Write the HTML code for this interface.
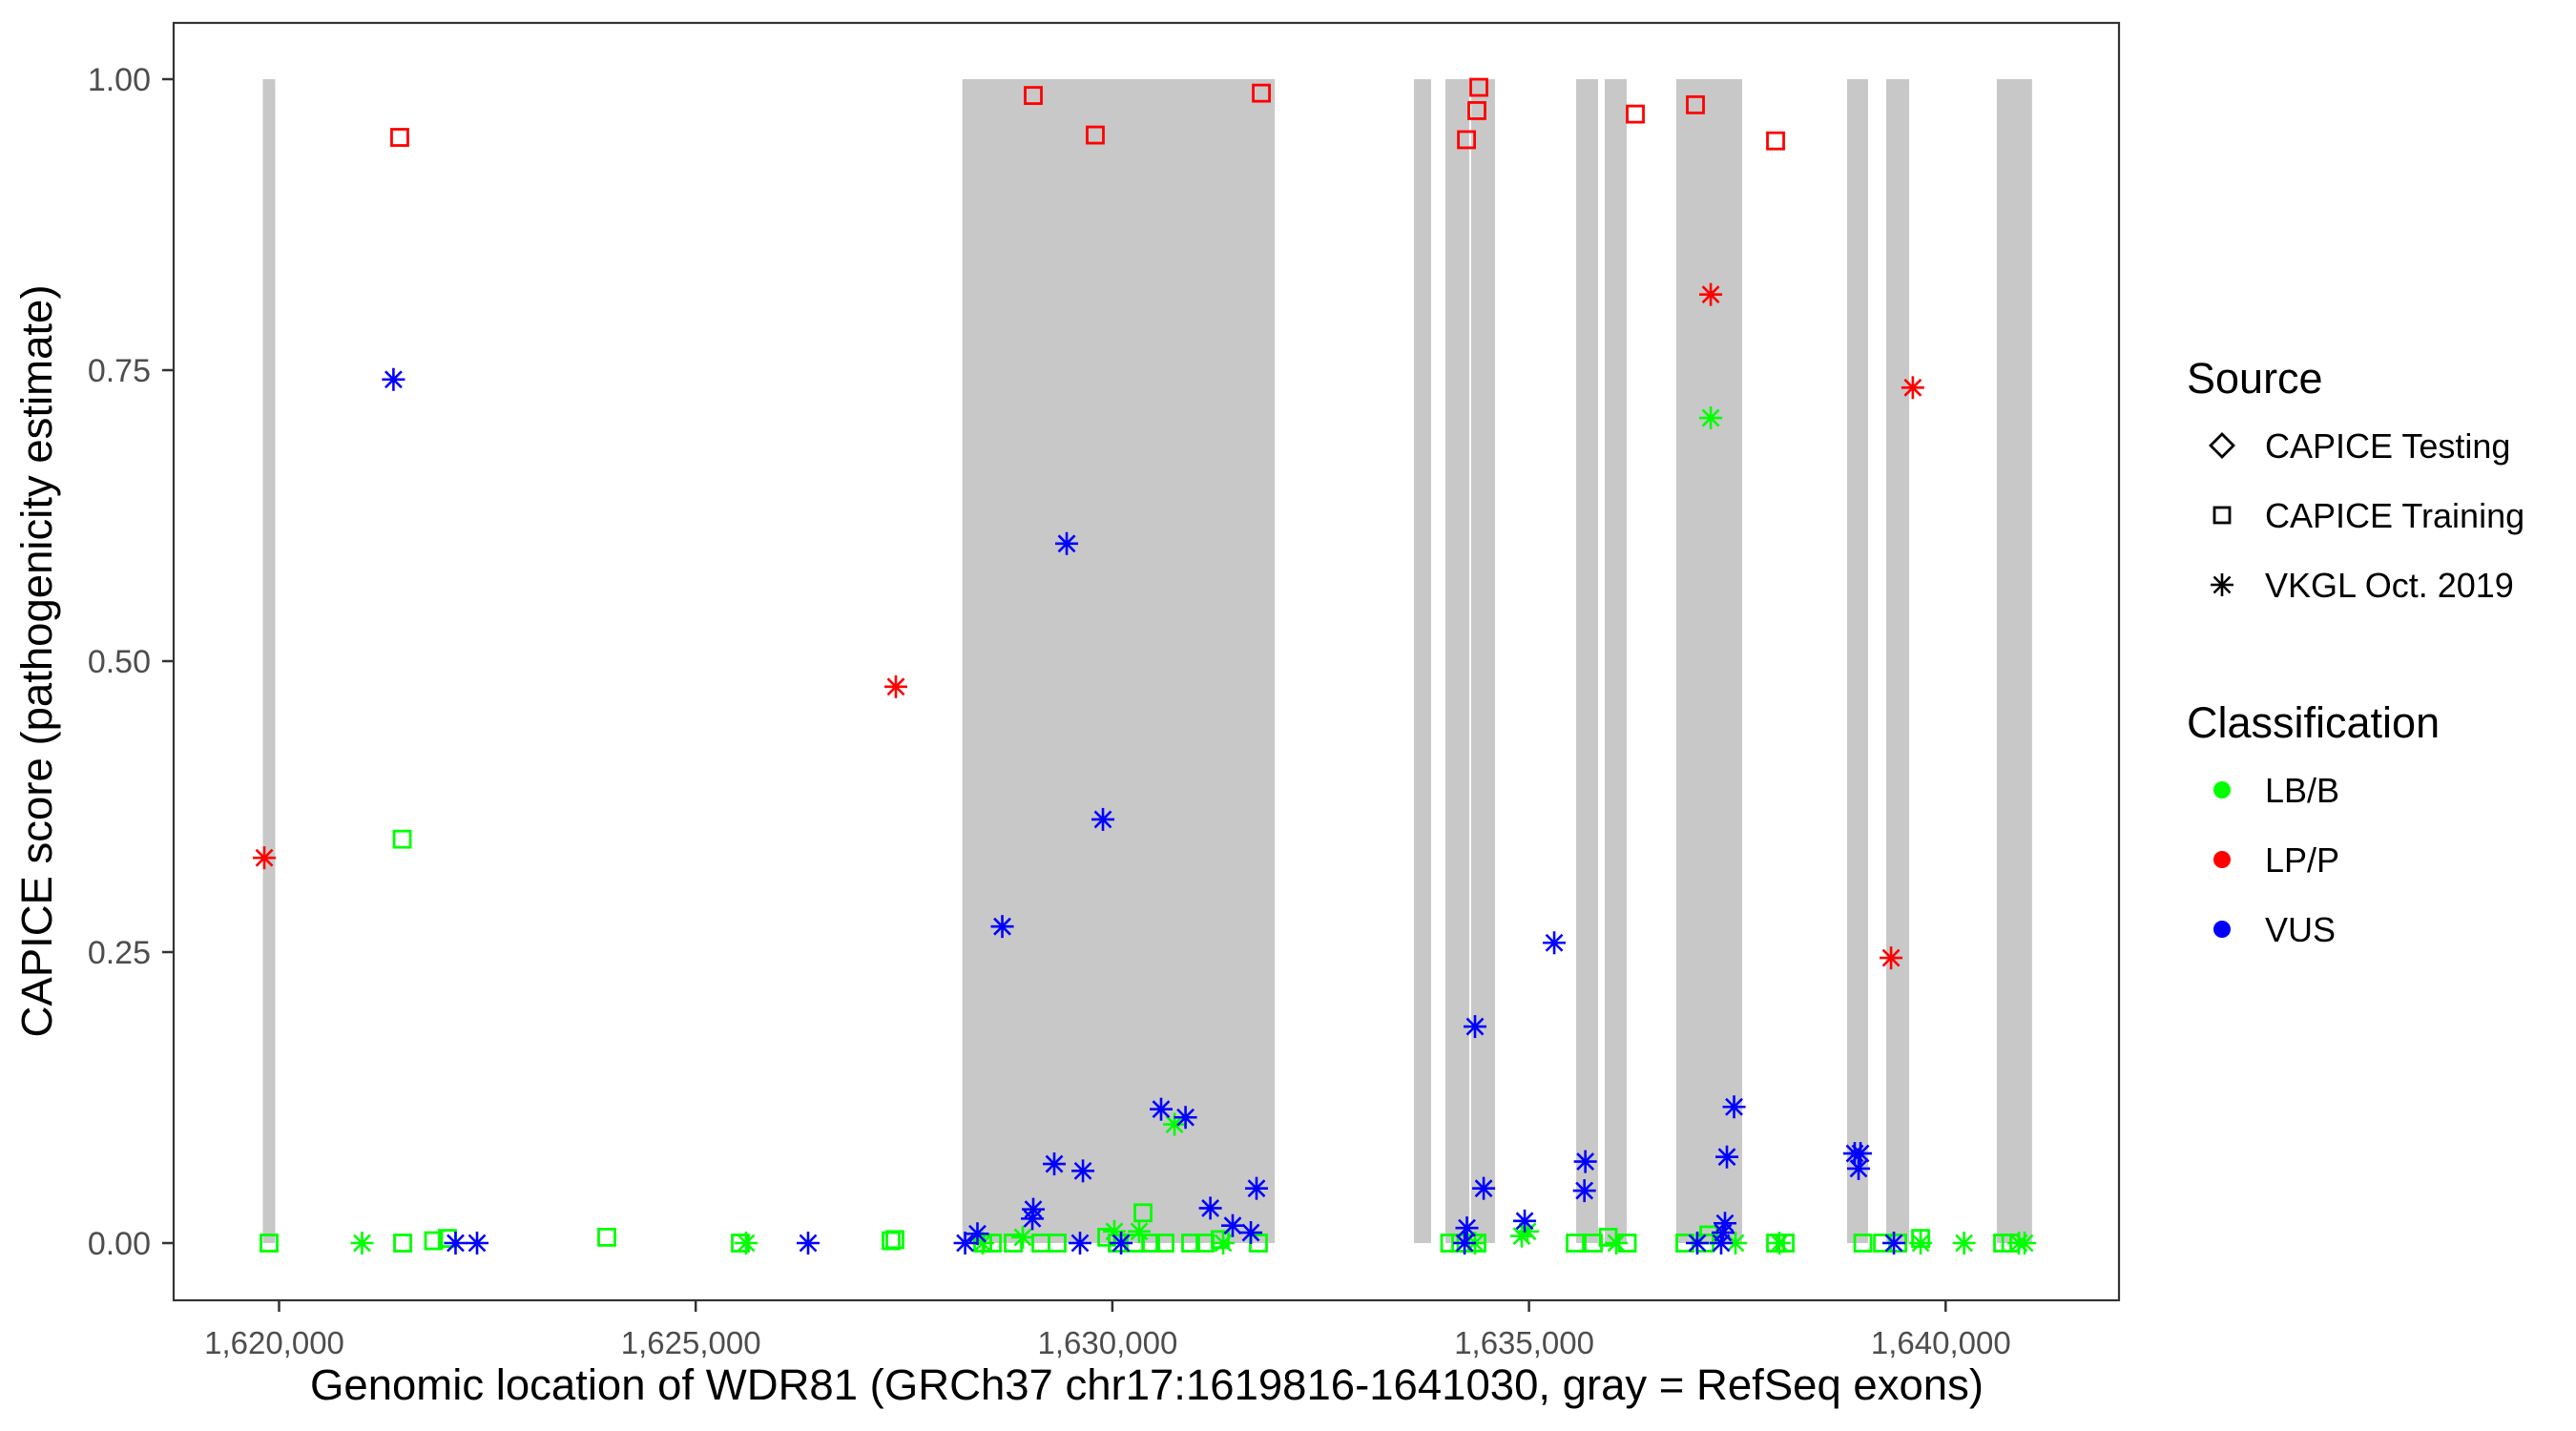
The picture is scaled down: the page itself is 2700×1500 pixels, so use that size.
<!DOCTYPE html>
<html><head><meta charset="utf-8"><style>
html,body{margin:0;padding:0;background:#fff;}
svg{display:block;font-family:"Liberation Sans",Arial,sans-serif;}
</style></head><body>
<svg id="chart" width="2700" height="1500" viewBox="0 0 2700 1500" xmlns="http://www.w3.org/2000/svg">
<rect x="0" y="0" width="2700" height="1500" fill="#fff"/>
<g id="exons"></g>
<g id="points"></g>
<rect x="182" y="24" width="2039" height="1339" fill="none" stroke="#333" stroke-width="2.2"/>
<g id="axes"></g>
<text x="1202" y="1467" font-size="45.5" text-anchor="middle" fill="#000">Genomic location of WDR81 (GRCh37 chr17:1619816-1641030, gray = RefSeq exons)</text>
<text transform="translate(54,693) rotate(-90)" font-size="45.5" text-anchor="middle" fill="#000">CAPICE score (pathogenicity estimate)</text>
<g transform="translate(-28,-5)">
<text x="2320" y="417" font-size="45" fill="#000">Source</text>
<path d="M2357 460 L2369 472 L2357 484 L2345 472 Z" fill="none" stroke="#000" stroke-width="2.8"/>
<text x="2402" y="485" font-size="36" fill="#000">CAPICE Testing</text>
<rect x="2349" y="537" width="16" height="16" fill="none" stroke="#000" stroke-width="2.8"/>
<text x="2402" y="558" font-size="36" fill="#000">CAPICE Training</text>
<g id="legast"></g>
<text x="2402" y="631" font-size="36" fill="#000">VKGL Oct. 2019</text>
<g transform="translate(0,-5)">
<text x="2320" y="783" font-size="45" fill="#000">Classification</text>
<circle cx="2357" cy="838" r="9" fill="#00ff00"/>
<text x="2402" y="851" font-size="36" fill="#000">LB/B</text>
<circle cx="2357" cy="911" r="9" fill="#ff0000"/>
<text x="2402" y="924" font-size="36" fill="#000">LP/P</text>
<circle cx="2357" cy="984" r="9" fill="#0000ff"/>
<text x="2402" y="997" font-size="36" fill="#000">VUS</text>
</g>
</g>
</svg>
<script>
const xTicks = [1620000, 1625000, 1630000, 1635000, 1640000];
const xTickLabels = ["1,620,000", "1,625,000", "1,630,000", "1,635,000", "1,640,000"];
const yTicks = [0, 0.25, 0.5, 0.75, 1.0];
const yTickLabels = ["0.00", "0.25", "0.50", "0.75", "1.00"];
const exonStarts = [1619805, 1628200, 1633619, 1633997, 1634306, 1635566, 1635909, 1636768, 1638817, 1639287, 1640614];
const exonEnds   = [1619954, 1631950, 1633825, 1634283, 1634592, 1635829, 1636173, 1637558, 1639069, 1639562, 1641037];

const redSqX = [1621448, 1629051, 1629795, 1631788, 1634250, 1634375, 1634398, 1636276, 1636997, 1637959];
const redSqY = [0.950, 0.986, 0.952, 0.988, 0.948, 0.973, 0.993, 0.970, 0.978, 0.947];
const redAstX = [1619823, 1627402, 1637181, 1639606, 1639345];
const redAstY = [0.331, 0.478, 0.815, 0.735, 0.245];

const greenSqX = [1619880, 1621483, 1621855, 1622021, 1623933, 1625536, 1627345, 1627391, 1628444, 1628559, 1628811, 1629143, 1629337, 1629933, 1630059, 1630276, 1630460, 1630631, 1630940, 1631112, 1631295, 1631753, 1621478, 1630368,
  1634049, 1634181, 1634375, 1635555, 1635772, 1635950, 1636179, 1636871, 1637112, 1637158, 1637959, 1638074, 1639007, 1639242, 1639425, 1639700, 1640684, 1640782];
const greenSqY = [0, 0, 0.002, 0.004, 0.005, 0, 0.002, 0.003, 0, 0, 0, 0, 0, 0.005, 0, 0, 0, 0, 0, 0, 0.003, 0, 0.347, 0.026,
  0, 0, 0, 0, 0, 0.005, 0, 0, 0, 0.007, 0, 0, 0, 0, 0, 0.004, 0, 0];
const greenAstX = [1620996, 1625605, 1628444, 1628925, 1630024, 1630322, 1631330, 1630746, 1637181,
  1634227, 1634352, 1634913, 1634982, 1636047, 1637478, 1638005, 1639700, 1640221, 1640948, 1640879];
const greenAstY = [0, 0, 0, 0.005, 0.01, 0.01, 0, 0.102, 0.709,
  0, 0, 0.006, 0.01, 0, 0, 0, 0, 0, 0, 0];

const blueAstX = [1621373, 1629452, 1629887, 1628679, 1630585, 1630878, 1629303, 1629647, 1631730, 1631176, 1629051, 1629040, 1631444, 1631662, 1628381,
  1622118, 1622376, 1626349, 1628233, 1629612, 1630105,
  1635303, 1634352, 1637461, 1637375, 1635676, 1635665, 1634456, 1638909, 1638978, 1638955, 1634948, 1634255, 1637352, 1637329, 1637020, 1637306, 1639379, 1634227];
const blueAstY = [0.742, 0.601, 0.364, 0.272, 0.115, 0.108, 0.068, 0.062, 0.047, 0.030, 0.029, 0.021, 0.015, 0.009, 0.008,
  0, 0, 0, 0, 0, 0,
  0.258, 0.186, 0.117, 0.074, 0.070, 0.045, 0.047, 0.077, 0.077, 0.064, 0.019, 0.013, 0.017, 0.009, 0, 0, 0, 0];

const NS = "http://www.w3.org/2000/svg";
function xS(v){ return 292.5 + (v - 1620000) * 0.08734; }
function yS(v){ return 1303 - v * 1220; }
function mk(tag, attrs, parent){
  const e = document.createElementNS(NS, tag);
  for (const k in attrs) e.setAttribute(k, attrs[k]);
  parent.appendChild(e);
  return e;
}
const exG = document.getElementById('exons');
for (let i = 0; i < exonStarts.length; i++) {
  const r = mk('rect', {x: xS(exonStarts[i]), y: yS(1), width: xS(exonEnds[i]) - xS(exonStarts[i]), height: yS(0) - yS(1), fill: '#c8c8c8'}, exG);
  
  
}
const axG = document.getElementById('axes');
for (let i = 0; i < xTicks.length; i++) {
  const x = xS(xTicks[i]);
  mk('line', {x1: x, x2: x, y1: 1363, y2: 1375, stroke: '#333', 'stroke-width': 2.5}, axG);
  const t = mk('text', {x: x - 5, y: 1419, 'font-size': 33, 'text-anchor': 'middle', fill: '#4d4d4d'}, axG);
  t.textContent = xTickLabels[i];
  
  
}
for (let i = 0; i < yTicks.length; i++) {
  const y = yS(yTicks[i]);
  mk('line', {x1: 170, x2: 182, y1: y, y2: y, stroke: '#333', 'stroke-width': 2.5}, axG);
  const t = mk('text', {x: 158, y: y + 12, 'font-size': 34, 'text-anchor': 'end', fill: '#4d4d4d'}, axG);
  t.textContent = yTickLabels[i];
  
  
}
const pG = document.getElementById('points');
function square(x, y, col){
  const r = mk('rect', {x: x - 8.5, y: y - 8.5, width: 17, height: 17, fill: 'none', stroke: col, 'stroke-width': 2.8}, pG);
  
  
}
function aster(x, y, col, parent){
  const g = mk('g', {stroke: col, 'stroke-width': 2.6}, parent);
  
  
  const s = 12, d = 8.5;
  mk('line', {x1: x - s, x2: x + s, y1: y, y2: y}, g);
  mk('line', {x1: x, x2: x, y1: y - s, y2: y + s}, g);
  mk('line', {x1: x - d, x2: x + d, y1: y - d, y2: y + d}, g);
  mk('line', {x1: x - d, x2: x + d, y1: y + d, y2: y - d}, g);
}
for (let i = 0; i < greenSqX.length; i++) square(xS(greenSqX[i]), yS(greenSqY[i]), '#00ff00');
for (let i = 0; i < greenAstX.length; i++) aster(xS(greenAstX[i]), yS(greenAstY[i]), '#00ff00', pG);
for (let i = 0; i < blueAstX.length; i++) aster(xS(blueAstX[i]), yS(blueAstY[i]), '#0000ff', pG);
for (let i = 0; i < redSqX.length; i++) square(xS(redSqX[i]), yS(redSqY[i]), '#ff0000');
for (let i = 0; i < redAstX.length; i++) aster(xS(redAstX[i]), yS(redAstY[i]), '#ff0000', pG);
aster(2357, 618, '#000', document.getElementById('legast'));
</script>
</body></html>
